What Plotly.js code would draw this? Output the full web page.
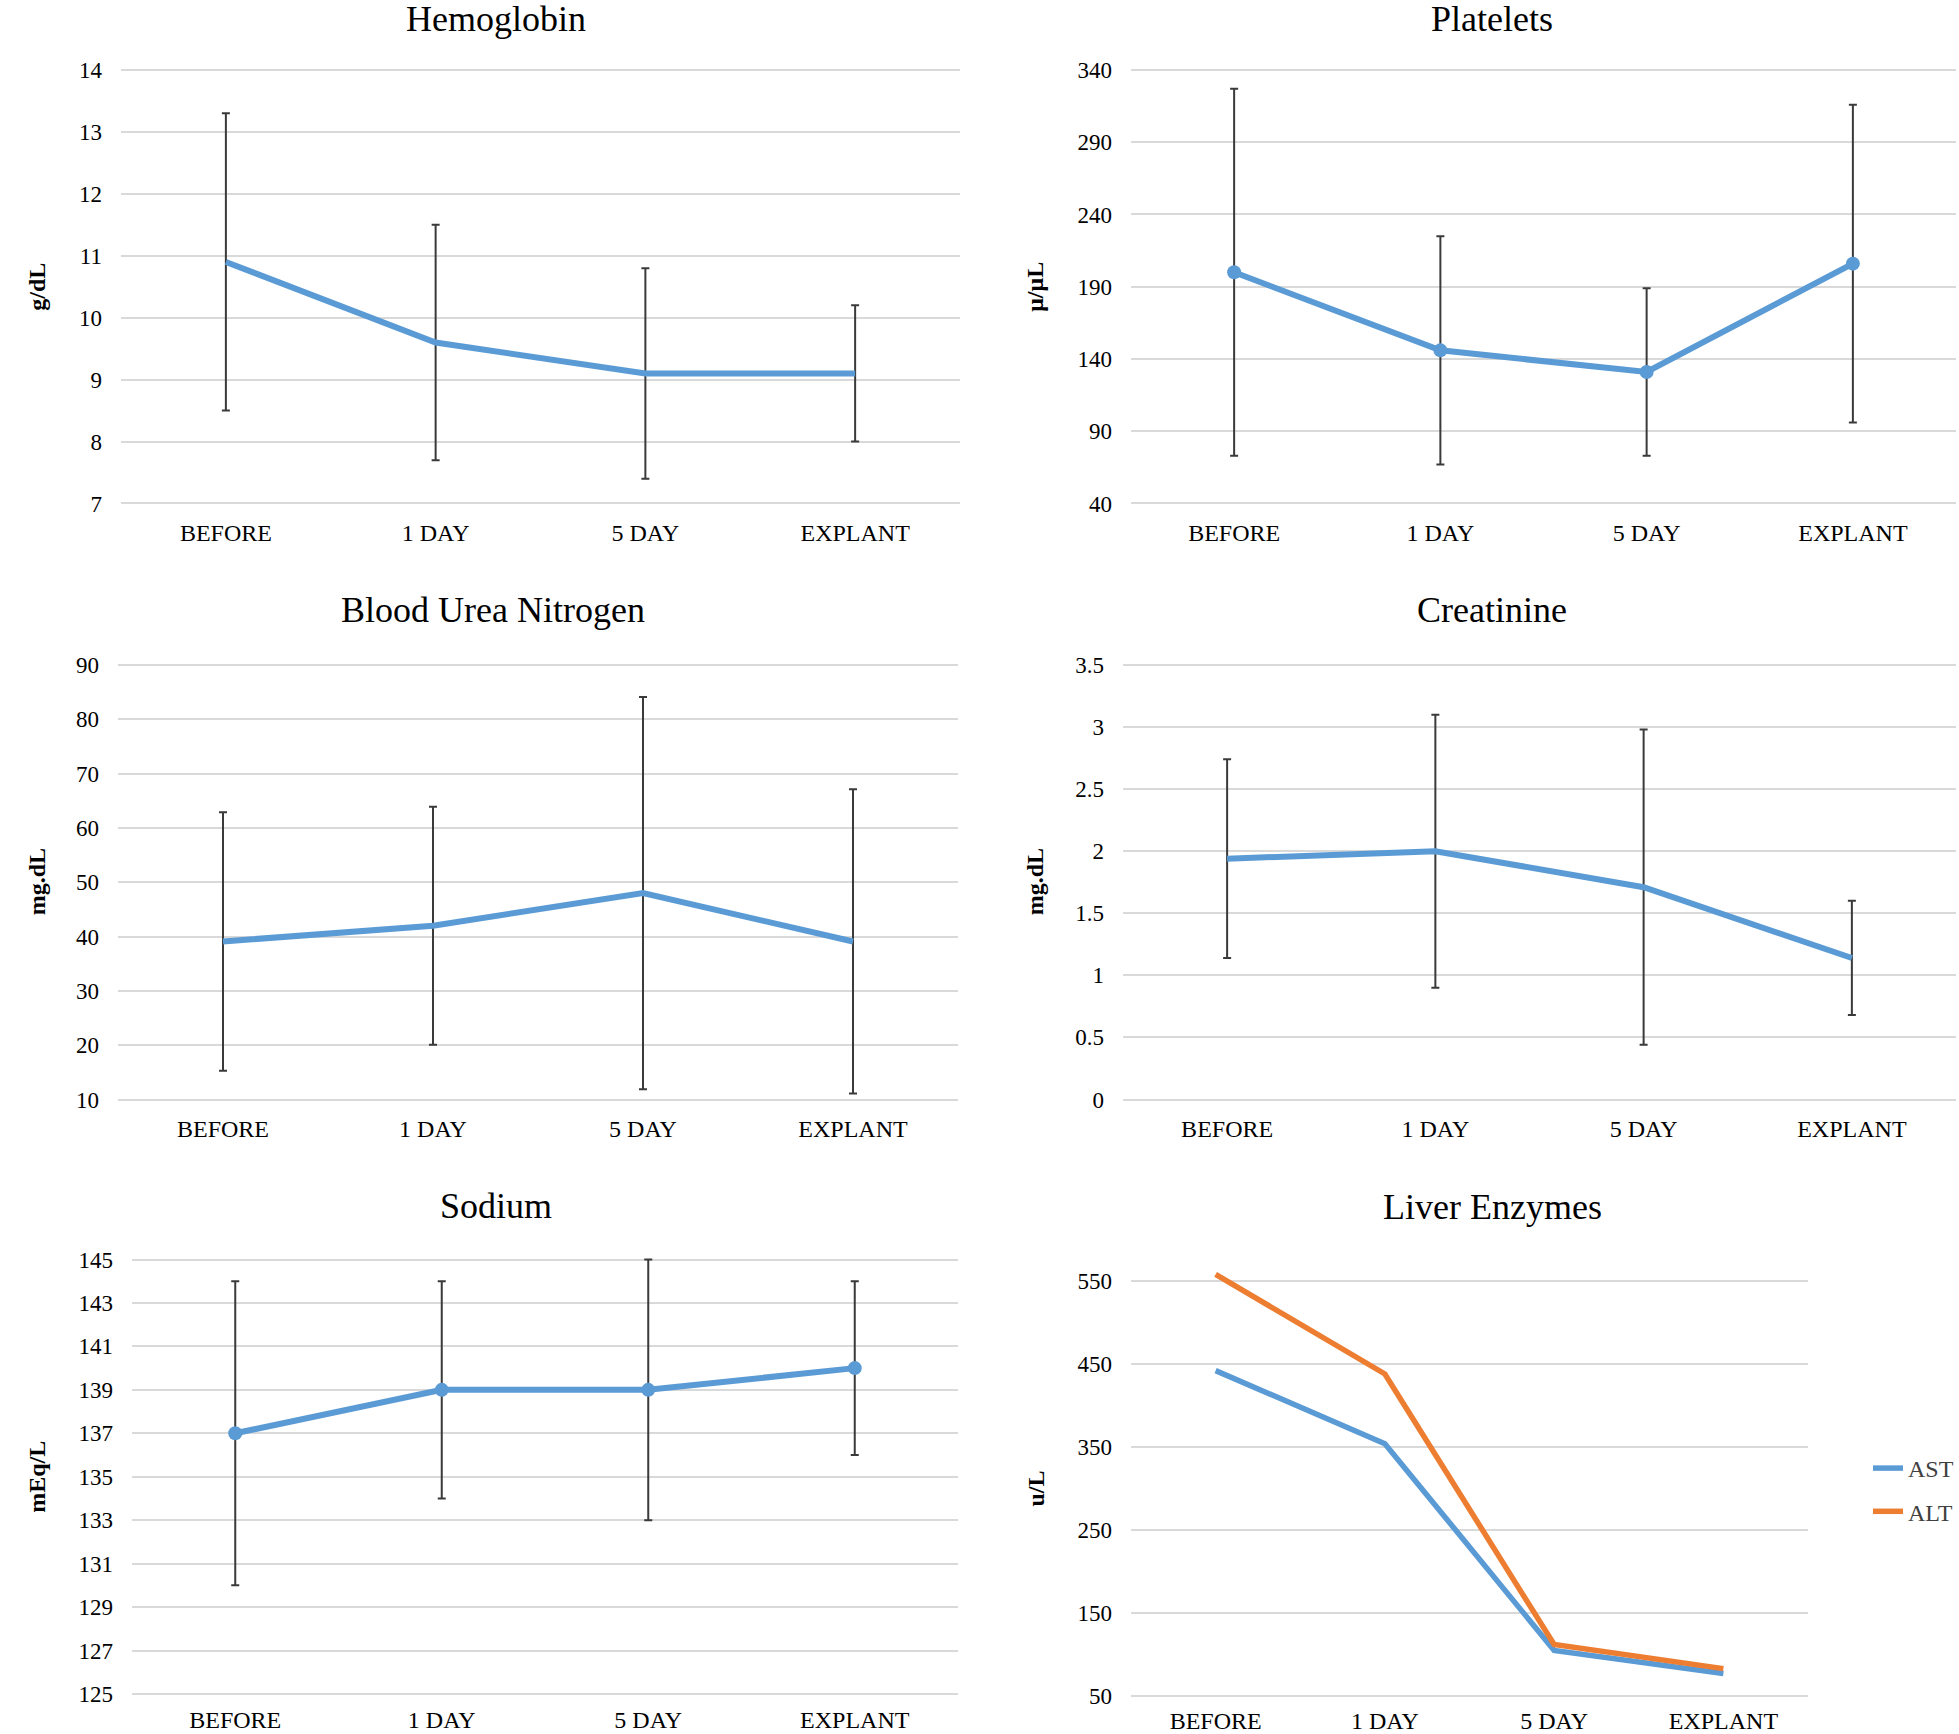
<!DOCTYPE html>
<html>
<head>
<meta charset="utf-8">
<script src="https://cdn.plot.ly/plotly-3.0.1.min.js"></script>
<style>
html,body{margin:0;padding:0;background:#fff;}
#chart{width:1959px;height:1734px;}
</style>
</head>
<body>
<div id="chart"></div>
<script>
// ---------- data ----------
const categories = ['BEFORE', '1 DAY', '5 DAY', 'EXPLANT'];

const hemoglobinMean = [10.9, 9.6, 9.1, 9.1];
const hemoglobinSD = [2.4, 1.9, 1.7, 1.1];
const hemoglobinTicks = [7, 8, 9, 10, 11, 12, 13, 14];

const plateletsMean = [200, 146, 131, 206];
const plateletsSD = [127, 79, 58, 110];
const plateletsTicks = [40, 90, 140, 190, 240, 290, 340];

const bunMean = [39.1, 42, 48, 39.1];
const bunSD = [23.8, 21.9, 36.1, 28];
const bunTicks = [10, 20, 30, 40, 50, 60, 70, 80, 90];

const creatinineMean = [1.94, 2.0, 1.71, 1.14];
const creatinineSD = [0.80, 1.10, 1.27, 0.46];
const creatinineTicks = [0, 0.5, 1, 1.5, 2, 2.5, 3, 3.5];

const sodiumMean = [137, 139, 139, 140];
const sodiumSD = [7, 5, 6, 4];
const sodiumTicks = [125, 127, 129, 131, 133, 135, 137, 139, 141, 143, 145];

const astValues = [442, 354, 105, 77];
const altValues = [558, 438, 112, 83];
const liverTicks = [50, 150, 250, 350, 450, 550];

const panelTitles = ['Hemoglobin', 'Platelets', 'Blood Urea Nitrogen', 'Creatinine', 'Sodium', 'Liver Enzymes'];
const unitTitles = ['g/dL', 'μ/μL', 'mg.dL', 'mg.dL', 'mEq/L', 'u/L'];

// ---------- styling ----------
const W = 1959, H = 1734;
const BLUE = '#5B9BD5', ORANGE = '#ED7D31', ERR = '#3A3A3A', GRID = '#D9D9D9';
const FONT = 'Liberation Serif, Times New Roman, serif';
const px = v => v / W;
const py = v => (H - v) / H;

// panel geometry in pixels: [left, right, topTickPx, bottomTickPx]
const geo = [
  [121, 960, 70, 503.5],
  [1131, 1956, 70, 503.5],
  [118, 958, 665, 1099.5],
  [1123, 1956, 665, 1099.5],
  [132, 958, 1259.5, 1694],
  [1131, 1808, 1281, 1696]
];
const titlePos = [[496, 19], [1492, 19], [493, 610], [1492, 610], [496, 1206], [1492, 1207]];
const unitX = [37, 1035, 37, 1035, 37, 1035];
const xStandoff = [10, 10, 10, 10, 6, 6];

const traces = [];
function errTrace(mean, sd, axisIdx, withMarkers) {
  const s = axisIdx === 1 ? '' : axisIdx;
  traces.push({
    type: 'scatter',
    x: categories, y: mean,
    xaxis: 'x' + s, yaxis: 'y' + s,
    mode: withMarkers ? 'lines+markers' : 'lines',
    line: {color: BLUE, width: 6},
    marker: {color: BLUE, size: 14},
    error_y: {type: 'data', array: sd, visible: true, color: ERR, thickness: 2, width: 4},
    showlegend: false, hoverinfo: 'skip'
  });
}
errTrace(hemoglobinMean, hemoglobinSD, 1, false);
errTrace(plateletsMean, plateletsSD, 2, true);
errTrace(bunMean, bunSD, 3, false);
errTrace(creatinineMean, creatinineSD, 4, false);
errTrace(sodiumMean, sodiumSD, 5, true);
traces.push({
  type: 'scatter', x: categories, y: astValues, xaxis: 'x6', yaxis: 'y6',
  mode: 'lines', name: 'AST', line: {color: BLUE, width: 5.5}, legendgroup: 'a'
});
traces.push({
  type: 'scatter', x: categories, y: altValues, xaxis: 'x6', yaxis: 'y6',
  mode: 'lines', name: 'ALT', line: {color: ORANGE, width: 5.5}, legendgroup: 'b'
});

const tickSets = [hemoglobinTicks, plateletsTicks, bunTicks, creatinineTicks, sodiumTicks, liverTicks];

const layout = {
  width: W, height: H,
  margin: {l: 0, r: 0, t: 0, b: 0},
  paper_bgcolor: '#fff', plot_bgcolor: '#fff',
  font: {family: FONT, color: '#000', size: 23},
  showlegend: true,
  legend: {
    x: px(1868), y: py(1446), xanchor: 'left', yanchor: 'top',
    font: {family: FONT, size: 24, color: '#404040'},
    bgcolor: 'rgba(0,0,0,0)', tracegroupgap: 9, borderwidth: 0
  },
  annotations: []
};

const PADF = 0.006;
for (let i = 0; i < 6; i++) {
  const s = i === 0 ? '' : (i + 1);
  const g = geo[i];
  const ticks = tickSets[i];
  const t0 = ticks[0], t1 = ticks[ticks.length - 1];
  const span = t1 - t0;
  const spanPx = g[3] - g[2];
  const padV = span * PADF, padPx = spanPx * PADF;
  let ymax = t1 + padV, topPx = g[2] - padPx;
  if (i === 5) { ymax = 562; topPx = g[2] - (562 - t1) * spanPx / span; }
  layout['xaxis' + s] = {
    domain: [px(g[0]), px(g[1])],
    anchor: 'y' + s,
    type: 'category',
    range: [-0.5, 3.5],
    showgrid: false, zeroline: false, showline: false, ticks: '',
    tickfont: {family: FONT, size: 24, color: '#000'},
    ticklabelstandoff: xStandoff[i],
    fixedrange: true
  };
  layout['yaxis' + s] = {
    domain: [py(g[3] + padPx), py(topPx)],
    anchor: 'x' + s,
    range: [t0 - padV, ymax],
    tickvals: ticks,
    ticktext: ticks.map(String),
    showgrid: true, gridcolor: GRID, gridwidth: 2,
    zeroline: false, showline: false, ticks: '',
    tickfont: {family: FONT, size: 23, color: '#000'},
    ticklabelstandoff: 18,
    fixedrange: true
  };
  layout.annotations.push({
    text: panelTitles[i], xref: 'paper', yref: 'paper',
    x: px(titlePos[i][0]), y: py(titlePos[i][1]), xanchor: 'center', yanchor: 'middle',
    showarrow: false, font: {family: FONT, size: 36, color: '#000'}
  });
  layout.annotations.push({
    text: '<b>' + unitTitles[i] + '</b>', xref: 'paper', yref: 'paper',
    x: px(unitX[i]), y: py((g[2] + g[3]) / 2), xanchor: 'center', yanchor: 'middle',
    textangle: -90, showarrow: false, font: {family: FONT, size: 24, color: '#000'}
  });
}

Plotly.newPlot('chart', traces, layout, {staticPlot: true});
</script>
</body>
</html>
